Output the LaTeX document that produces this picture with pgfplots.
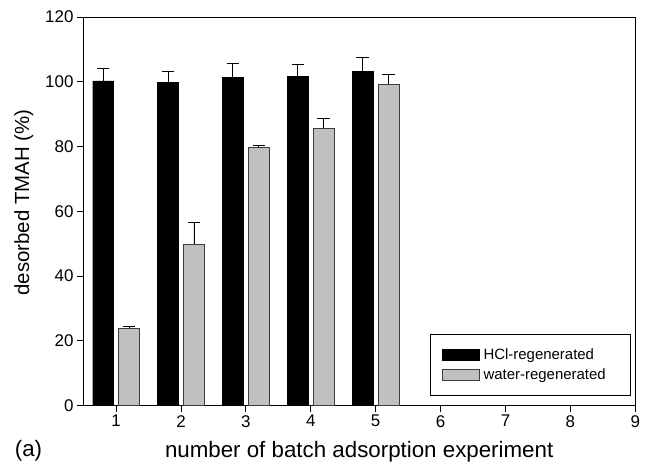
\documentclass[border=0pt]{standalone}
\usepackage{fontspec}
\setmainfont{Liberation Sans}
\usepackage{pgfplots}
\pgfplotsset{compat=1.18}
\usepackage{pgfplotstable}

\definecolor{barg}{RGB}{192,192,192}
\definecolor{edgeg}{RGB}{60,60,60}

% run, value, upper error
\pgfplotstableread{
x  y      e
1  100.3  3.9
2  99.8   3.4
3  101.4  4.2
4  101.7  3.5
5  103.2  4.4
}\hcl
\pgfplotstableread{
x  y      e
1  23.9   0.6
2  49.9   6.8
3  79.6   0.6
4  85.6   3.0
5  99.2   3.1
}\water

\begin{document}
\begin{tikzpicture}
\begin{axis}[
  scale only axis,
  width=552.3bp, height=388.7bp,
  xmin=0.49, xmax=9,
  ymin=0, ymax=120,
  xtick={1,...,9},
  ytick={0,20,...,120},
  xtick pos=bottom, ytick pos=left,
  tick align=outside,
  major tick length=6bp,
  axis line style={line width=0.9bp},
  tick style={line width=0.9bp, black},
  /pgf/number format/assume math mode=true,
  ticklabel style={font=\fontsize{17}{20}\selectfont},
  xlabel={number of batch adsorption experiment},
  ylabel={desorbed TMAH (\%)},
  xlabel style={font=\fontsize{22.4}{26}\selectfont, yshift=-7bp},
  ylabel style={font=\fontsize{20.5}{24}\selectfont,
    at={(ticklabel cs:0.523)}, yshift=5bp},
  ybar, bar width=0.32,
  legend style={
    at={(0.629,0.026)}, anchor=south west,
    draw=black, line width=0.8bp,
    font=\fontsize{15}{18}\selectfont,
    row sep=3.3bp, inner xsep=11bp, inner ysep=12.4bp,
    legend cell align=left,
  },
  legend image code/.code={
    \draw[#1, line width=0.8bp] (0bp,-5.5bp) rectangle (37bp,5.5bp);
    \path (39bp,0bp);
  },
  error bars/error mark=|,
]
\addplot[fill=black, draw=black, bar shift=-0.2,
  error bars/.cd, y dir=plus, y explicit,
  error bar style={line width=0.9bp, black},
  error mark options={mark size=6.3bp, line width=0.9bp, black}]
  table[x=x, y=y, y error=e] {\hcl};
\addplot[fill=barg, draw=edgeg, line width=0.8bp, bar shift=0.2,
  error bars/.cd, y dir=plus, y explicit,
  error bar style={line width=0.9bp, black},
  error mark options={mark size=6.3bp, line width=0.9bp, black}]
  table[x=x, y=y, y error=e] {\water};
\legend{HCl-regenerated, water-regenerated\hspace*{12bp}}
\end{axis}
\node[font=\fontsize{22.4}{26}\selectfont] at (-54.5bp,-45.3bp) {(a)};
\pgfresetboundingbox
\useasboundingbox (-83bp,-62.3bp) rectangle (569bp,405.7bp);
\end{tikzpicture}
\end{document}
